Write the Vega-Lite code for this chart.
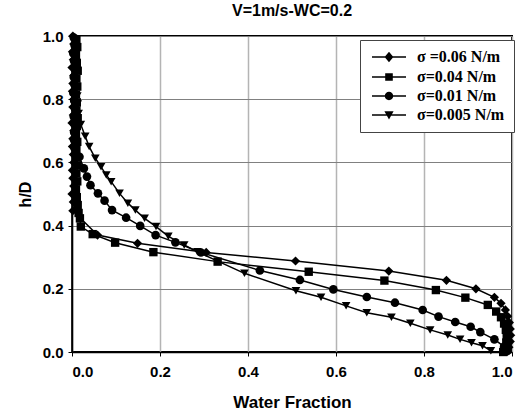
{
  "$schema": "https://vega.github.io/schema/vega-lite/v6.json",
  "autosize": {"type": "none"},
  "width": 440,
  "height": 316,
  "padding": {"left": 72, "top": 36, "right": 11, "bottom": 66},
  "background": "white",
  "title": {"text": "V=1m/s-WC=0.2", "font": "Liberation Sans", "fontSize": 16, "fontWeight": "bold", "color": "black", "anchor": "middle", "offset": 10},
  "config": {
    "view": {"stroke": "black", "strokeWidth": 2},
    "axis": {"domainColor": "black", "domainWidth": 1.5, "tickColor": "black", "tickSize": 4, "labelFont": "Liberation Sans", "labelFontSize": 15, "labelFontWeight": "bold", "labelColor": "black", "titleFont": "Liberation Sans", "titleFontWeight": "bold", "titleColor": "black"}
  },
  "data": {"values": [
    {"s":"σ =0.06 N/m","x":0.002,"y":1.0},{"s":"σ =0.06 N/m","x":0.004,"y":0.975},{"s":"σ =0.06 N/m","x":0.001,"y":0.95},{"s":"σ =0.06 N/m","x":0.003,"y":0.925},{"s":"σ =0.06 N/m","x":0.0,"y":0.9},{"s":"σ =0.06 N/m","x":0.004,"y":0.875},{"s":"σ =0.06 N/m","x":0.002,"y":0.85},{"s":"σ =0.06 N/m","x":0.001,"y":0.825},{"s":"σ =0.06 N/m","x":0.004,"y":0.8},{"s":"σ =0.06 N/m","x":0.002,"y":0.775},{"s":"σ =0.06 N/m","x":0.003,"y":0.75},{"s":"σ =0.06 N/m","x":0.0,"y":0.725},{"s":"σ =0.06 N/m","x":0.004,"y":0.7},{"s":"σ =0.06 N/m","x":0.002,"y":0.675},{"s":"σ =0.06 N/m","x":0.001,"y":0.65},{"s":"σ =0.06 N/m","x":0.003,"y":0.625},{"s":"σ =0.06 N/m","x":0.004,"y":0.6},{"s":"σ =0.06 N/m","x":0.001,"y":0.575},{"s":"σ =0.06 N/m","x":0.002,"y":0.55},{"s":"σ =0.06 N/m","x":0.004,"y":0.525},{"s":"σ =0.06 N/m","x":0.0,"y":0.5},{"s":"σ =0.06 N/m","x":0.003,"y":0.475},{"s":"σ =0.06 N/m","x":0.002,"y":0.447},
    {"s":"σ =0.06 N/m","x":0.058,"y":0.37},{"s":"σ =0.06 N/m","x":0.149,"y":0.344},{"s":"σ =0.06 N/m","x":0.305,"y":0.315},{"s":"σ =0.06 N/m","x":0.508,"y":0.288},{"s":"σ =0.06 N/m","x":0.72,"y":0.256},{"s":"σ =0.06 N/m","x":0.851,"y":0.227},{"s":"σ =0.06 N/m","x":0.918,"y":0.2},{"s":"σ =0.06 N/m","x":0.96,"y":0.173},{"s":"σ =0.06 N/m","x":0.975,"y":0.154},{"s":"σ =0.06 N/m","x":0.985,"y":0.133},{"s":"σ =0.06 N/m","x":0.99,"y":0.113},{"s":"σ =0.06 N/m","x":0.994,"y":0.093},{"s":"σ =0.06 N/m","x":0.996,"y":0.073},{"s":"σ =0.06 N/m","x":0.997,"y":0.053},{"s":"σ =0.06 N/m","x":0.996,"y":0.033},{"s":"σ =0.06 N/m","x":0.993,"y":0.015},{"s":"σ =0.06 N/m","x":0.99,"y":0.002},

    {"s":"σ=0.04 N/m","x":0.01,"y":0.99},{"s":"σ=0.04 N/m","x":0.012,"y":0.965},{"s":"σ=0.04 N/m","x":0.009,"y":0.94},{"s":"σ=0.04 N/m","x":0.011,"y":0.915},{"s":"σ=0.04 N/m","x":0.013,"y":0.89},{"s":"σ=0.04 N/m","x":0.01,"y":0.865},{"s":"σ=0.04 N/m","x":0.012,"y":0.84},{"s":"σ=0.04 N/m","x":0.009,"y":0.815},{"s":"σ=0.04 N/m","x":0.011,"y":0.79},{"s":"σ=0.04 N/m","x":0.01,"y":0.765},{"s":"σ=0.04 N/m","x":0.013,"y":0.74},{"s":"σ=0.04 N/m","x":0.011,"y":0.715},{"s":"σ=0.04 N/m","x":0.009,"y":0.69},{"s":"σ=0.04 N/m","x":0.012,"y":0.665},{"s":"σ=0.04 N/m","x":0.01,"y":0.64},{"s":"σ=0.04 N/m","x":0.011,"y":0.615},{"s":"σ=0.04 N/m","x":0.013,"y":0.59},{"s":"σ=0.04 N/m","x":0.01,"y":0.565},{"s":"σ=0.04 N/m","x":0.012,"y":0.54},{"s":"σ=0.04 N/m","x":0.009,"y":0.515},{"s":"σ=0.04 N/m","x":0.011,"y":0.49},{"s":"σ=0.04 N/m","x":0.013,"y":0.465},{"s":"σ=0.04 N/m","x":0.015,"y":0.44},
    {"s":"σ=0.04 N/m","x":0.018,"y":0.423},{"s":"σ=0.04 N/m","x":0.02,"y":0.397},{"s":"σ=0.04 N/m","x":0.047,"y":0.373},{"s":"σ=0.04 N/m","x":0.098,"y":0.346},{"s":"σ=0.04 N/m","x":0.185,"y":0.316},{"s":"σ=0.04 N/m","x":0.331,"y":0.286},{"s":"σ=0.04 N/m","x":0.538,"y":0.254},{"s":"σ=0.04 N/m","x":0.71,"y":0.226},{"s":"σ=0.04 N/m","x":0.827,"y":0.196},{"s":"σ=0.04 N/m","x":0.894,"y":0.172},{"s":"σ=0.04 N/m","x":0.945,"y":0.149},{"s":"σ=0.04 N/m","x":0.964,"y":0.128},{"s":"σ=0.04 N/m","x":0.975,"y":0.11},{"s":"σ=0.04 N/m","x":0.982,"y":0.09},{"s":"σ=0.04 N/m","x":0.986,"y":0.07},{"s":"σ=0.04 N/m","x":0.988,"y":0.05},{"s":"σ=0.04 N/m","x":0.987,"y":0.03},{"s":"σ=0.04 N/m","x":0.984,"y":0.012},{"s":"σ=0.04 N/m","x":0.98,"y":0.0},

    {"s":"σ=0.01 N/m","x":0.004,"y":0.995},{"s":"σ=0.01 N/m","x":0.006,"y":0.97},{"s":"σ=0.01 N/m","x":0.003,"y":0.945},{"s":"σ=0.01 N/m","x":0.005,"y":0.92},{"s":"σ=0.01 N/m","x":0.007,"y":0.895},{"s":"σ=0.01 N/m","x":0.004,"y":0.87},{"s":"σ=0.01 N/m","x":0.006,"y":0.845},{"s":"σ=0.01 N/m","x":0.003,"y":0.82},{"s":"σ=0.01 N/m","x":0.005,"y":0.795},{"s":"σ=0.01 N/m","x":0.007,"y":0.77},{"s":"σ=0.01 N/m","x":0.004,"y":0.745},{"s":"σ=0.01 N/m","x":0.006,"y":0.72},{"s":"σ=0.01 N/m","x":0.005,"y":0.695},{"s":"σ=0.01 N/m","x":0.005,"y":0.67},
    {"s":"σ=0.01 N/m","x":0.006,"y":0.645},{"s":"σ=0.01 N/m","x":0.017,"y":0.618},{"s":"σ=0.01 N/m","x":0.027,"y":0.581},{"s":"σ=0.01 N/m","x":0.034,"y":0.555},{"s":"σ=0.01 N/m","x":0.042,"y":0.528},{"s":"σ=0.01 N/m","x":0.059,"y":0.502},{"s":"σ=0.01 N/m","x":0.074,"y":0.479},{"s":"σ=0.01 N/m","x":0.091,"y":0.449},{"s":"σ=0.01 N/m","x":0.123,"y":0.425},{"s":"σ=0.01 N/m","x":0.155,"y":0.399},{"s":"σ=0.01 N/m","x":0.19,"y":0.37},{"s":"σ=0.01 N/m","x":0.235,"y":0.347},{"s":"σ=0.01 N/m","x":0.293,"y":0.315},{"s":"σ=0.01 N/m","x":0.427,"y":0.258},{"s":"σ=0.01 N/m","x":0.518,"y":0.228},{"s":"σ=0.01 N/m","x":0.594,"y":0.198},{"s":"σ=0.01 N/m","x":0.67,"y":0.174},{"s":"σ=0.01 N/m","x":0.734,"y":0.156},{"s":"σ=0.01 N/m","x":0.797,"y":0.133},{"s":"σ=0.01 N/m","x":0.833,"y":0.112},{"s":"σ=0.01 N/m","x":0.871,"y":0.095},{"s":"σ=0.01 N/m","x":0.906,"y":0.08},{"s":"σ=0.01 N/m","x":0.928,"y":0.063},{"s":"σ=0.01 N/m","x":0.96,"y":0.04},{"s":"σ=0.01 N/m","x":0.982,"y":0.017},{"s":"σ=0.01 N/m","x":0.99,"y":0.004},

    {"s":"σ=0.005 N/m","x":0.008,"y":0.985},{"s":"σ=0.005 N/m","x":0.01,"y":0.96},{"s":"σ=0.005 N/m","x":0.007,"y":0.935},{"s":"σ=0.005 N/m","x":0.009,"y":0.91},{"s":"σ=0.005 N/m","x":0.011,"y":0.885},{"s":"σ=0.005 N/m","x":0.008,"y":0.86},{"s":"σ=0.005 N/m","x":0.01,"y":0.835},{"s":"σ=0.005 N/m","x":0.012,"y":0.81},{"s":"σ=0.005 N/m","x":0.013,"y":0.785},
    {"s":"σ=0.005 N/m","x":0.015,"y":0.755},{"s":"σ=0.005 N/m","x":0.02,"y":0.72},{"s":"σ=0.005 N/m","x":0.03,"y":0.683},{"s":"σ=0.005 N/m","x":0.039,"y":0.65},{"s":"σ=0.005 N/m","x":0.053,"y":0.613},{"s":"σ=0.005 N/m","x":0.066,"y":0.586},{"s":"σ=0.005 N/m","x":0.078,"y":0.56},{"s":"σ=0.005 N/m","x":0.089,"y":0.539},{"s":"σ=0.005 N/m","x":0.108,"y":0.502},{"s":"σ=0.005 N/m","x":0.127,"y":0.471},{"s":"σ=0.005 N/m","x":0.144,"y":0.449},{"s":"σ=0.005 N/m","x":0.165,"y":0.423},{"s":"σ=0.005 N/m","x":0.191,"y":0.397},{"s":"σ=0.005 N/m","x":0.219,"y":0.366},{"s":"σ=0.005 N/m","x":0.255,"y":0.339},{"s":"σ=0.005 N/m","x":0.285,"y":0.317},{"s":"σ=0.005 N/m","x":0.392,"y":0.249},{"s":"σ=0.005 N/m","x":0.509,"y":0.194},{"s":"σ=0.005 N/m","x":0.566,"y":0.173},{"s":"σ=0.005 N/m","x":0.623,"y":0.146},{"s":"σ=0.005 N/m","x":0.67,"y":0.124},{"s":"σ=0.005 N/m","x":0.726,"y":0.11},{"s":"σ=0.005 N/m","x":0.769,"y":0.091},{"s":"σ=0.005 N/m","x":0.814,"y":0.07},{"s":"σ=0.005 N/m","x":0.854,"y":0.054},{"s":"σ=0.005 N/m","x":0.882,"y":0.04},{"s":"σ=0.005 N/m","x":0.908,"y":0.029},{"s":"σ=0.005 N/m","x":0.933,"y":0.02},{"s":"σ=0.005 N/m","x":0.952,"y":0.004}
  ]},
  "encoding": {
    "x": {"field": "x", "type": "quantitative", "scale": {"domain": [0, 1], "nice": false}, "axis": {"values": [0, 0.2, 0.4, 0.6, 0.8, 1], "format": ".1f", "title": "Water Fraction", "titleFontSize": 17, "titlePadding": 15, "labelPadding": 8, "gridColor": "#b4b4b4", "gridWidth": 1.5}},
    "y": {"field": "y", "type": "quantitative", "scale": {"domain": [0, 1], "nice": false}, "axis": {"values": [0, 0.2, 0.4, 0.6, 0.8, 1], "format": ".1f", "title": "h/D", "titleFontSize": 16, "titlePadding": 9, "labelPadding": 5, "gridColor": "#808080", "gridWidth": 1.2}}
  },
  "layer": [
    {"mark": {"type": "line", "color": "black", "strokeWidth": 1.5}, "encoding": {"detail": {"field": "s"}, "order": {"value": null}}},
    {"transform": [{"filter": "datum.s === 'σ =0.06 N/m'"}], "mark": {"type": "point", "shape": "diamond", "filled": true, "color": "black", "opacity": 1, "size": 85}},
    {"transform": [{"filter": "datum.s === 'σ=0.04 N/m'"}], "mark": {"type": "point", "shape": "square", "filled": true, "color": "black", "opacity": 1, "size": 70}},
    {"transform": [{"filter": "datum.s === 'σ=0.01 N/m'"}], "mark": {"type": "point", "shape": "circle", "filled": true, "color": "black", "opacity": 1, "size": 75}},
    {"transform": [{"filter": "datum.s === 'σ=0.005 N/m'"}], "mark": {"type": "point", "shape": "triangle-down", "filled": true, "color": "black", "opacity": 1, "size": 75}},
    {"transform": [{"filter": "false"}],
     "mark": {"type": "point", "filled": true, "color": "black", "opacity": 1},
     "encoding": {"shape": {"field": "s", "type": "nominal",
        "scale": {"domain": ["σ =0.06 N/m", "σ=0.04 N/m", "σ=0.01 N/m", "σ=0.005 N/m"],
                  "range": ["M-1.25,-0.19L7.25,-0.19L7.25,0.19L-1.25,0.19ZM3,-1.3L4.1,0L3,1.3L1.9,0Z", "M-1.25,-0.19L7.25,-0.19L7.25,0.19L-1.25,0.19ZM2.05,-0.95L3.95,-0.95L3.95,0.95L2.05,0.95Z", "M-1.25,-0.19L7.25,-0.19L7.25,0.19L-1.25,0.19ZM4.05,0A1.05,1.05,0,1,1,1.95,0A1.05,1.05,0,1,1,4.05,0Z", "M-1.25,-0.19L7.25,-0.19L7.25,0.19L-1.25,0.19ZM1.85,-0.95L4.15,-0.95L3,1.15Z"]},
        "legend": {"title": null, "orient": "none", "legendX": 288, "legendY": 4, "symbolSize": 64, "symbolFillColor": "black", "symbolOpacity": 1, "labelFont": "Liberation Serif", "labelFontSize": 16, "labelFontWeight": "bold", "labelColor": "black", "labelOffset": 32, "rowPadding": 3, "padding": 9, "strokeColor": "#444", "fillColor": "white", "labelLimit": 200,
          "encode": {"legend": {"update": {"stroke": {"value": "#444"}, "strokeWidth": {"value": 1}}}}}}}}
  ]
}
